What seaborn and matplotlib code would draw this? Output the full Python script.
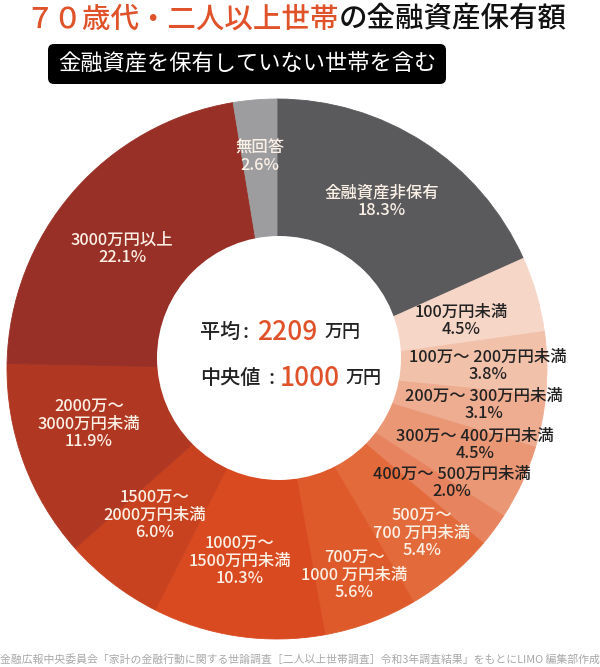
import numpy as np
import pandas as pd
import seaborn as sns
import matplotlib
matplotlib.use("Agg")
import matplotlib.pyplot as plt
from matplotlib.patches import FancyBboxPatch, Circle

# ---------------- data ----------------
categories = [
    "金融資産非保有", "100万円未満", "100万～ 200万円未満", "200万～ 300万円未満",
    "300万～ 400万円未満", "400万～ 500万円未満", "500万～\n700 万円未満",
    "700万～\n1000 万円未満", "1000万～\n1500万円未満", "1500万～\n2000万円未満",
    "2000万～\n3000万円未満", "3000万円以上", "無回答",
]
shares = [18.3, 4.5, 3.8, 3.1, 4.5, 2.0, 5.4, 5.6, 10.3, 6.0, 11.9, 22.1, 2.6]
mean_value = "2209"
median_value = "1000"

title_accent = "７０歳代・二人以上世帯"
title_rest = "の金融資産保有額"
subtitle = "金融資産を保有していない世帯を含む"
footer = "金融広報中央委員会「家計の金融行動に関する世論調査［二人以上世帯調査］令和3年調査結果」をもとにLIMO 編集部作成"

# ---------------- style ----------------
colors = ["#5a5a5c", "#f6d6c7", "#f2c1aa", "#eeac90", "#ea9776", "#e7835e",
          "#e36a3b", "#df5a2b", "#d94a20", "#c9421f", "#b03822", "#983027", "#9d9d9f"]
text_colors = ["#fbf0e6", "#222222", "#222222", "#222222", "#222222", "#222222",
               "#fbf0e6", "#fbf0e6", "#fbf0e6", "#fbf0e6", "#fbf0e6", "#fbf0e6", "#fbf0e6"]
# label block centres in pixel coords (top-origin)
label_pos = [(382, 202), (461, 321), (488, 366), (484, 405), (475, 445), (452, 483),
             (422, 533), (354, 575), (240, 561), (155, 515), (89, 424), (122, 249), (260, 157)]

sns.set_theme(style="white")
plt.rcParams["font.family"] = ["Noto Sans CJK JP", "DejaVu Sans"]

W, H = 600, 667
fig = plt.figure(figsize=(W / 100, H / 100), dpi=100)
ax = fig.add_axes([0, 0, 1, 1])

def Y(y):
    return H - y

CX, CY, R = 277, 369, 270
wedges, _ = ax.pie(shares, colors=colors, startangle=90, counterclock=False,
                   center=(CX, Y(CY)), radius=R, wedgeprops=dict(linewidth=0.6))
for w, c in zip(wedges, colors):
    w.set_edgecolor(c)

ax.add_patch(Circle((279, Y(358)), 122, facecolor="white", edgecolor="none", zorder=3))

ax.set_xlim(0, W)
ax.set_ylim(0, H)
ax.axis("off")

# slice labels
for cat, v, (lx, ly), tc in zip(categories, shares, label_pos, text_colors):
    ax.text(lx, Y(ly), f"{cat}\n{v:.1f}%", ha="center", va="center", multialignment="center",
            fontsize=11.8, fontweight="medium", color=tc, linespacing=1.05, zorder=4)

# centre text
orange = "#e0522a"
kw = dict(va="center", zorder=4, fontweight="medium")
ax.text(200, Y(332), "平均", fontsize=14.5, color="#222222", ha="left", **kw)
ax.text(246, Y(332), ":", fontsize=14.5, color="#222222", ha="center", **kw)
ax.text(257, Y(332), mean_value, fontsize=19, color=orange, ha="left", **kw)
ax.text(324, Y(332), "万円", fontsize=13, color="#222222", ha="left", **kw)
ax.text(200, Y(378), "中央値", fontsize=14.5, color="#222222", ha="left", **kw)
ax.text(272, Y(378), ":", fontsize=14.5, color="#222222", ha="center", **kw)
ax.text(280, Y(378), median_value, fontsize=19, color=orange, ha="left", **kw)
ax.text(345, Y(378), "万円", fontsize=13, color="#222222", ha="left", **kw)

# title
t1 = ax.text(25, Y(19), title_accent, fontsize=20.5, color=orange, ha="left", va="center",
             fontweight="medium")
fig.canvas.draw()
bb = t1.get_window_extent(renderer=fig.canvas.get_renderer())
ax.text(bb.x1, Y(19), title_rest, fontsize=20.5, color="#111111", ha="left", va="center",
        fontweight="medium")

# subtitle box
ax.add_patch(FancyBboxPatch((48, Y(84)), 398, 40,
                            boxstyle="round,pad=0,rounding_size=6",
                            facecolor="black", edgecolor="none"))
ax.text(247, Y(64), subtitle, fontsize=16, color="white", ha="center", va="center")

# footer
ax.text(300, Y(659), footer, fontsize=7.8, color="#a8a8a8", ha="center", va="center")

fig.savefig("out.png", dpi=100)
